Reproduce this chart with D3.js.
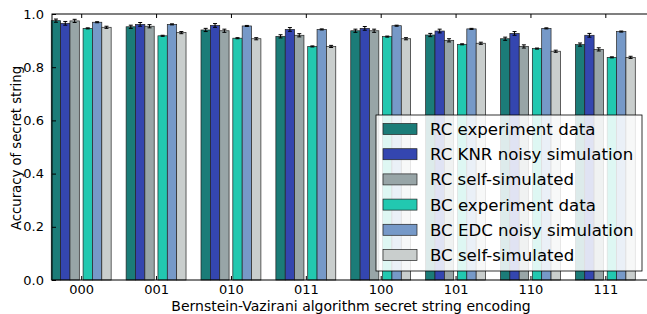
<!DOCTYPE html>
<html>
<head>
<meta charset="utf-8">
<script src="https://cdn.jsdelivr.net/npm/d3@7"></script>
<style>
  body { margin: 0; background: #fff; }
  text { font-family: "DejaVu Sans", sans-serif; fill: #000; }
</style>
</head>
<body>
<div id="chart"></div>
<script>
// data
var categories = ["000", "001", "010", "011", "100", "101", "110", "111"];
var seriesNames = ["RC experiment data", "RC KNR noisy simulation", "RC self-simulated",
  "BC experiment data", "BC EDC noisy simulation", "BC self-simulated"];
var seriesColors = ["#1b7c78", "#3446b0", "#98a5a7", "#22c8b0", "#7699c8", "#c9cecd"];

var rcExperiment = [0.975, 0.952, 0.940, 0.916, 0.937, 0.921, 0.907, 0.885];
var rcKnr        = [0.965, 0.961, 0.957, 0.942, 0.946, 0.936, 0.927, 0.920];
var rcSelf       = [0.974, 0.954, 0.937, 0.920, 0.937, 0.901, 0.878, 0.867];
var bcExperiment = [0.946, 0.918, 0.909, 0.878, 0.915, 0.886, 0.870, 0.837];
var bcEdc        = [0.969, 0.961, 0.955, 0.942, 0.956, 0.944, 0.946, 0.934];
var bcSelf       = [0.950, 0.930, 0.907, 0.878, 0.907, 0.890, 0.860, 0.837];
var errors = [0.006, 0.007, 0.006, 0.002, 0.002, 0.004];

var allSeries = [rcExperiment, rcKnr, rcSelf, bcExperiment, bcEdc, bcSelf];
var yTicks = [0.0, 0.2, 0.4, 0.6, 0.8, 1.0];

var svgWidth = 647;
var svgHeight = 314;
var margin = { top: 14, right: -4, bottom: 34, left: 52 };
var width = svgWidth - margin.left - margin.right;
var height = svgHeight - margin.top - margin.bottom;

var svg = d3.select("#chart").append("svg")
  .attr("width", svgWidth)
  .attr("height", svgHeight);

var chartGroup = svg.append("g")
  .attr("transform", `translate(${margin.left}, ${margin.top})`);

// bar group layout in category units
var barW = 0.125;
var gap = 0.05;
function offset(i) {
  return -0.4 + i * barW + (i >= 3 ? gap : 0);
}

var xScale = d3.scaleLinear()
  .domain([-0.39, 7.61])
  .range([0, width]);
var yScale = d3.scaleLinear().domain([0, 1]).range([height, 0]);

// bars
allSeries.forEach(function(vals, si) {
  var g = chartGroup.append("g");
  g.selectAll("rect")
    .data(vals)
    .enter()
    .append("rect")
    .attr("x", (d, i) => xScale(i + offset(si)))
    .attr("y", d => yScale(d))
    .attr("width", xScale(barW) - xScale(0))
    .attr("height", d => height - yScale(d))
    .attr("fill", seriesColors[si])
    .attr("stroke", "#222")
    .attr("stroke-width", 0.7);

  // error bars
  var e = errors[si];
  var eb = g.selectAll("g.err")
    .data(vals)
    .enter()
    .append("g")
    .attr("class", "err");
  eb.each(function(d, i) {
    var cx = xScale(i + offset(si) + barW / 2);
    var s = d3.select(this);
    s.append("line")
      .attr("x1", cx).attr("x2", cx)
      .attr("y1", yScale(d - e)).attr("y2", yScale(d + e))
      .attr("stroke", "#000").attr("stroke-width", 1);
    [d - e, d + e].forEach(function(v) {
      s.append("line")
        .attr("x1", cx - 2).attr("x2", cx + 2)
        .attr("y1", yScale(v)).attr("y2", yScale(v))
        .attr("stroke", "#000").attr("stroke-width", 1);
    });
  });
});

// frame
chartGroup.append("rect")
  .attr("width", width).attr("height", height)
  .attr("fill", "none").attr("stroke", "#000").attr("stroke-width", 1);

// axes (ticks inward)
var leftAxis = d3.axisLeft(yScale).tickValues(yTicks).tickFormat(d3.format(".1f"))
  .tickSizeInner(-4).tickSizeOuter(0).tickPadding(8);
var yAxis = chartGroup.append("g").call(leftAxis);
yAxis.select(".domain").remove();
yAxis.selectAll("text").style("font-size", "13px");

var rightTicks = chartGroup.append("g").attr("transform", `translate(${width},0)`)
  .call(d3.axisRight(yScale).tickValues(yTicks).tickSizeInner(-4).tickSizeOuter(0).tickFormat(""));
rightTicks.select(".domain").remove();

var bottomAxis = d3.axisBottom(xScale).tickValues(d3.range(categories.length))
  .tickFormat(i => categories[i]).tickSizeInner(-4).tickSizeOuter(0).tickPadding(5);
var xAxis = chartGroup.append("g")
  .attr("transform", `translate(0, ${height})`)
  .call(bottomAxis);
xAxis.select(".domain").remove();
xAxis.selectAll("text").style("font-size", "13px");

var topTicks = chartGroup.append("g")
  .call(d3.axisTop(xScale).tickValues(d3.range(categories.length)).tickSizeInner(-4).tickSizeOuter(0).tickFormat(""));
topTicks.select(".domain").remove();

// axis labels
svg.append("text")
  .attr("transform", `translate(16, ${margin.top + height / 2 + 1}) rotate(-90)`)
  .attr("text-anchor", "middle")
  .attr("dy", "0.35em")
  .style("font-size", "13.2px")
  .text("Accuracy of secret string");

svg.append("text")
  .attr("x", 351)
  .attr("y", 306)
  .attr("text-anchor", "middle")
  .attr("dy", "0.35em")
  .style("font-size", "14px")
  .text("Bernstein-Vazirani algorithm secret string encoding");

// legend
var legend = svg.append("g").attr("transform", "translate(376, 115)");
legend.append("rect")
  .attr("width", 266).attr("height", 156)
  .attr("fill", "#fff").attr("fill-opacity", 0.85)
  .attr("stroke", "#000").attr("stroke-width", 0.8);

seriesNames.forEach(function(name, i) {
  var row = legend.append("g").attr("transform", `translate(0, ${14 + i * 25.2})`);
  row.append("rect")
    .attr("x", 7).attr("y", -5.5)
    .attr("width", 34).attr("height", 11)
    .attr("fill", seriesColors[i])
    .attr("stroke", "#222").attr("stroke-width", 0.7);
  row.append("text")
    .attr("x", 54)
    .attr("dy", "0.36em")
    .style("font-size", "16.6px")
    .text(name);
});
</script>
</body>
</html>
